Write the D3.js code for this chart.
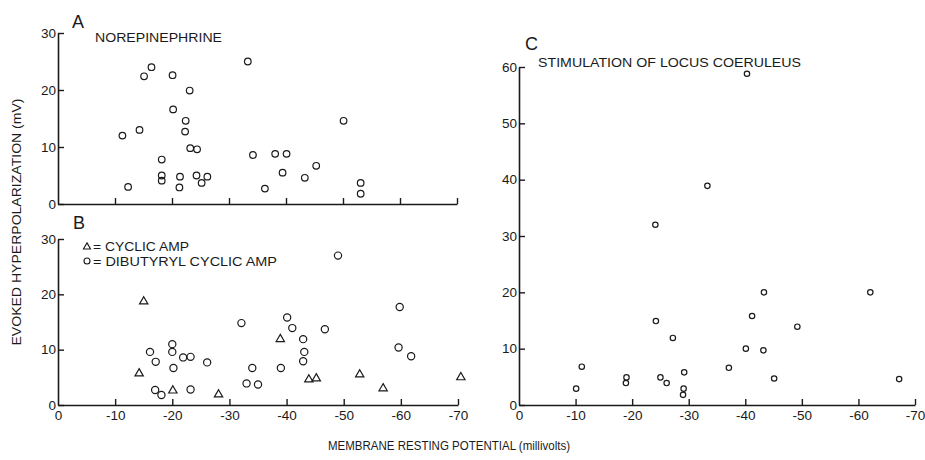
<!DOCTYPE html>
<html><head><meta charset="utf-8">
<script src="https://cdn.jsdelivr.net/npm/d3@7"></script>
<style>
body{margin:0;background:#fff;}
svg text{font-family:"Liberation Sans",Arial,sans-serif;fill:#1a1a1a;}
</style></head>
<body><svg id="c" width="925" height="460"></svg>
<script>
// Panel A: Norepinephrine [membrane potential mV, hyperpolarization mV]
const normX = [-11.3,-12.3,-14.3,-15.1,-16.4,-18.2,-18.2,-18.2,-20.1,-20.2,-21.4,-21.3,-23.1,-22.4,-22.3,-23.2,-24.4,-24.3,-25.2,-26.2,-33.3,-34.2,-36.3,-38.1,-39.4,-40.1,-43.3,-45.3,-50.1,-53.1,-53.1];
const normY = [12,3,13,22.4,24,7.8,5,4.1,22.6,16.6,4.8,2.9,19.9,14.6,12.7,9.8,9.6,5,3.7,4.8,25,8.6,2.7,8.8,5.5,8.8,4.6,6.7,14.6,3.7,1.8];
// Panel B: cyclic AMP (triangles)
const campX = [-15,-14.2,-20.1,-28.1,-38.9,-43.9,-45.2,-52.8,-56.9,-70.5];
const campY = [18.7,5.7,2.6,1.9,11.9,4.6,4.8,5.5,3,5];
// Panel B: dibutyryl cyclic AMP (circles)
const dbX = [-16.1,-17.1,-17,-18.1,-20,-20,-20.2,-21.9,-23.2,-23.2,-26.1,-32.1,-33,-34,-35,-39,-40.1,-41,-42.9,-43.1,-42.9,-46.7,-49,-59.8,-59.6,-61.8];
const dbY = [9.6,7.8,2.7,1.8,11,9.6,6.7,8.6,8.7,2.8,7.7,14.8,3.9,6.7,3.7,6.7,15.8,13.9,11.9,9.6,7.9,13.7,27,17.7,10.4,8.8];
// Panel C: stimulation of locus coeruleus
const lcX = [-40.3,-33.3,-24.1,-24.2,-27.2,-10.1,-11.1,-19,-18.9,-25,-26.1,-29.2,-29.1,-29,-37.1,-40.1,-41.2,-43.3,-43.2,-45.1,-49.2,-62.1,-67.2];
const lcY = [58.8,38.9,32,14.9,11.9,2.9,6.8,4.9,3.9,4.9,3.9,5.8,2.9,1.8,6.6,10,15.8,20,9.7,4.7,13.9,20,4.6];

const xTicks = [0,-10,-20,-30,-40,-50,-60,-70];
const yTicksAB = [0,10,20,30];
const yTicksC = [0,10,20,30,40,50,60];

const svg = d3.select("#c");
const ink = "#1a1a1a";
const fmt = d => d === 0 ? "0" : "-" + Math.abs(d);

function panel(xr, yr, ydom, yt, showXLabels) {
  const x = d3.scaleLinear().domain([0,-70]).range(xr);
  const y = d3.scaleLinear().domain(ydom).range(yr);
  const gx = svg.append("g").attr("transform", `translate(0,${yr[0]})`)
    .call(d3.axisBottom(x).tickValues(xTicks).tickSizeInner(-6).tickSizeOuter(0).tickPadding(4)
      .tickFormat(showXLabels ? fmt : ""));
  const gy = svg.append("g").attr("transform", `translate(${xr[0]},0)`)
    .call(d3.axisLeft(y).tickValues(yt).tickSizeInner(-6).tickSizeOuter(0).tickPadding(2));
  [gx, gy].forEach(g => {
    g.select(".domain").attr("stroke", ink).attr("stroke-width", 1.6);
    g.selectAll(".tick line").attr("stroke", ink).attr("stroke-width", 1.4);
    g.selectAll(".tick text").attr("font-size", 13.5).attr("fill", ink)
      .style("font-family", '"Liberation Sans",Arial,sans-serif');
  });
  gx.selectAll(".tick").filter(d => d === 0).select("line").remove();
  gx.selectAll(".tick text").attr("dy", "0.85em");
  return {x, y};
}

function circles(p, xs, ys, r) {
  svg.append("g").selectAll("circle").data(xs).join("circle")
    .attr("cx", (d,i) => p.x(d)).attr("cy", (d,i) => p.y(ys[i])).attr("r", r)
    .attr("fill", "none").attr("stroke", ink).attr("stroke-width", 1.2);
}
function triangles(p, xs, ys, s) {
  const tri = d3.symbol().type(d3.symbolTriangle).size(s);
  svg.append("g").selectAll("path").data(xs).join("path")
    .attr("d", tri)
    .attr("transform", (d,i) => `translate(${p.x(d)},${p.y(ys[i])})`)
    .attr("fill", "none").attr("stroke", ink).attr("stroke-width", 1.2);
}

const pA = panel([58,457], [204,33], [0,30], yTicksAB, false);
const pB = panel([58,458], [405,239], [0,30], yTicksAB, true);
const pC = panel([519,915], [405,67], [0,60], yTicksC, true);

circles(pA, normX, normY, 3.3);
circles(pB, dbX, dbY, 3.6);
triangles(pB, campX, campY, 30);
circles(pC, lcX, lcY, 2.7);

// Panel letters and titles
const txt = (x, y, s, size, len) => {
  const t = svg.append("text").attr("x", x).attr("y", y).attr("font-size", size).text(s);
  if (len) t.attr("textLength", len).attr("lengthAdjust", "spacingAndGlyphs");
  return t;
};
txt(72, 28, "A", 18);
txt(95, 42, "NOREPINEPHRINE", 13, 127);
txt(73, 229, "B", 18);
txt(525, 50, "C", 18);
txt(538, 67, "STIMULATION OF LOCUS COERULEUS", 13, 263);

// Legend in B
svg.append("path").attr("d", d3.symbol().type(d3.symbolTriangle).size(22)())
  .attr("transform", "translate(87,247)").attr("fill", "none").attr("stroke", ink).attr("stroke-width", 1.1);
txt(93, 251, "= CYCLIC AMP", 12.5, 96);
svg.append("circle").attr("cx", 87).attr("cy", 261).attr("r", 3).attr("fill", "none").attr("stroke", ink).attr("stroke-width", 1.1);
txt(93, 265.5, "= DIBUTYRYL CYCLIC AMP", 12.5, 184);

// Axis titles
svg.append("text").attr("transform", "translate(21,222) rotate(-90)").attr("text-anchor", "middle")
  .attr("font-size", 13).attr("textLength", 247).attr("lengthAdjust", "spacingAndGlyphs")
  .text("EVOKED HYPERPOLARIZATION (mV)");
svg.append("text").attr("x", 328).attr("y", 450).attr("font-size", 12.5)
  .attr("textLength", 242).attr("lengthAdjust", "spacingAndGlyphs")
  .text("MEMBRANE RESTING POTENTIAL (millivolts)");
</script></body></html>
